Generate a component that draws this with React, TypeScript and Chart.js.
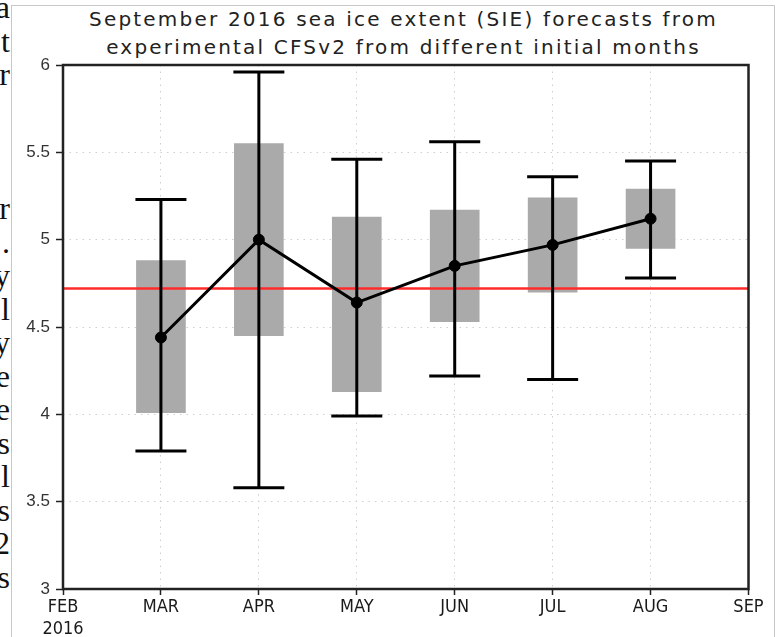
import React, { useEffect, useRef } from "react";
import { Chart, registerables } from "chart.js";

Chart.register(...registerables);

const monthLabels: (string | string[])[] = [["FEB", "2016"], "MAR", "APR", "MAY", "JUN", "JUL", "AUG", "SEP"];
const initMonthPos = [1, 2, 3, 4, 5, 6];
const meanSIE = [4.44, 5.0, 4.64, 4.85, 4.97, 5.12];
const boxLow = [4.01, 4.45, 4.13, 4.53, 4.7, 4.95];
const boxHigh = [4.88, 5.55, 5.13, 5.17, 5.24, 5.29];
const whiskerLow = [3.79, 3.58, 3.99, 4.22, 4.2, 4.78];
const whiskerHigh = [5.23, 5.96, 5.46, 5.56, 5.36, 5.45];
const observedSIE = 4.72;
const titleLines = [
  "September 2016 sea ice extent (SIE) forecasts from",
  "experimental CFSv2 from different initial months",
];
const sideFragments = ["a", "t", "r", "", "", "", "r", ".", "y", "l", "y", "e", "e", "s", "l", "s", "2", "s"];

const framePlugin = {
  id: "frameBox",
  afterDatasetsDraw(chart: any) {
    const { ctx, chartArea } = chart;
    const { left, top, right, bottom } = chartArea;
    ctx.save();
    ctx.strokeStyle = "#222";
    ctx.lineWidth = 2.5;
    ctx.strokeRect(left, top, right - left, bottom - top);
    ctx.restore();
  },
};

export default function App() {
  const canvasRef = useRef<HTMLCanvasElement | null>(null);

  useEffect(() => {
    document.body.style.margin = "0";
    const canvas = canvasRef.current;
    if (!canvas) return;

    const boxData = initMonthPos.map((x, i) => ({ x, y: [boxLow[i], boxHigh[i]] }));
    const whiskerData: any[] = [];
    initMonthPos.forEach((x, i) => {
      whiskerData.push({ x, y: whiskerLow[i] });
      whiskerData.push({ x, y: whiskerHigh[i] });
      whiskerData.push({ x, y: null });
    });
    const meanData = initMonthPos.map((x, i) => ({ x, y: meanSIE[i] }));
    const obsData = [
      { x: 0, y: observedSIE },
      { x: monthLabels.length - 1, y: observedSIE },
    ];

    const tickFont = { family: "'DejaVu Sans Condensed', 'Liberation Sans Narrow', 'DejaVu Sans', sans-serif", size: 18, lineHeight: 1.2 };

    const chart = new Chart(canvas, {
      type: "line",
      data: {
        datasets: [
          {
            type: "bar",
            data: boxData as any,
            backgroundColor: "#aaaaaa",
            borderWidth: 0,
            barThickness: 49,
            order: 4,
          } as any,
          {
            type: "line",
            data: obsData,
            borderColor: "#ff2b2b",
            borderWidth: 2.5,
            pointRadius: 0,
            order: 3,
          },
          {
            type: "line",
            data: whiskerData,
            borderColor: "#000",
            borderWidth: 3,
            spanGaps: false,
            pointStyle: "line",
            pointRadius: 25.5,
            pointBorderWidth: 3,
            pointBorderColor: "#000",
            pointHoverRadius: 25.5,
            order: 2,
          },
          {
            type: "line",
            data: meanData,
            borderColor: "#000",
            borderWidth: 3,
            pointRadius: 5.5,
            pointBackgroundColor: "#000",
            pointBorderColor: "#000",
            pointBorderWidth: 1,
            order: 1,
          },
        ],
      },
      options: {
        animation: false,
        responsive: false,
        devicePixelRatio: 1,
        events: [],
        layout: { padding: { left: 0, top: 65, right: 27, bottom: 0 } },
        plugins: {
          legend: { display: false },
          tooltip: { enabled: false },
          title: { display: false },
        },
        scales: {
          x: {
            type: "linear",
            min: 0,
            max: monthLabels.length - 1,
            offset: false,
            afterFit: (axis: any) => {
              axis.height = 48;
            },
            ticks: {
              stepSize: 1,
              autoSkip: false,
              maxRotation: 0,
              padding: 2,
              color: "#1a1a1a",
              font: tickFont,
              callback: (v: any) => monthLabels[Number(v)] ?? "",
            },
            grid: {
              color: "#cfcfcf",
              lineWidth: 1,
              tickLength: 6,
              tickColor: "#222",
              tickWidth: 1.5,
              tickBorderDash: [],
              offset: false,
            },
            border: { display: false, dash: [1.5, 5] },
          },
          y: {
            type: "linear",
            min: 3,
            max: 6,
            beginAtZero: false,
            afterFit: (axis: any) => {
              axis.width = 63;
            },
            ticks: {
              stepSize: 0.5,
              padding: 6,
              color: "#333",
              font: { family: "'Liberation Sans', Arial, sans-serif", size: 17 },
              callback: (v: any) => String(Number(v)),
            },
            grid: {
              color: "#cfcfcf",
              lineWidth: 1,
              tickLength: 7,
              tickColor: "#222",
              tickWidth: 1.5,
              tickBorderDash: [],
            },
            border: { display: false, dash: [1.5, 5] },
          },
        },
      },
      plugins: [framePlugin],
    } as any);

    return () => {
      chart.destroy();
    };
  }, []);

  return (
    <div style={{ position: "relative", width: 777, height: 637, overflow: "hidden", background: "#fff" }}>
      <div
        style={{
          position: "absolute",
          left: 11,
          top: 5,
          width: 762,
          height: 640,
          borderLeft: "1px solid #c8c8c8",
          borderTop: "1px solid #c8c8c8",
          borderRight: "1px solid #c8c8c8",
        }}
      />
      <div
        style={{
          position: "absolute",
          left: -200,
          top: -9,
          width: 210,
          fontFamily: "'Liberation Serif', 'Times New Roman', serif",
          fontSize: 32,
          lineHeight: "33.5px",
          textAlign: "right",
          color: "#111",
        }}
      >
        {sideFragments.map((t, i) => (
          <div key={i} style={{ height: 33.5 }}>
            {t || "\u00a0"}
          </div>
        ))}
      </div>
      <div
        style={{
          position: "absolute",
          left: 0,
          top: 5,
          width: 807,
          textAlign: "center",
          fontFamily: "'DejaVu Sans', sans-serif",
          fontSize: 20,
          lineHeight: "28px",
          letterSpacing: "2.2px",
          color: "#222",
        }}
      >
        {titleLines.map((t, i) => (
          <div key={i}>{t}</div>
        ))}
      </div>
      <canvas
        ref={canvasRef}
        width={777}
        height={637}
        style={{ position: "absolute", left: 0, top: 0, width: 777, height: 637 }}
      />
    </div>
  );
}
